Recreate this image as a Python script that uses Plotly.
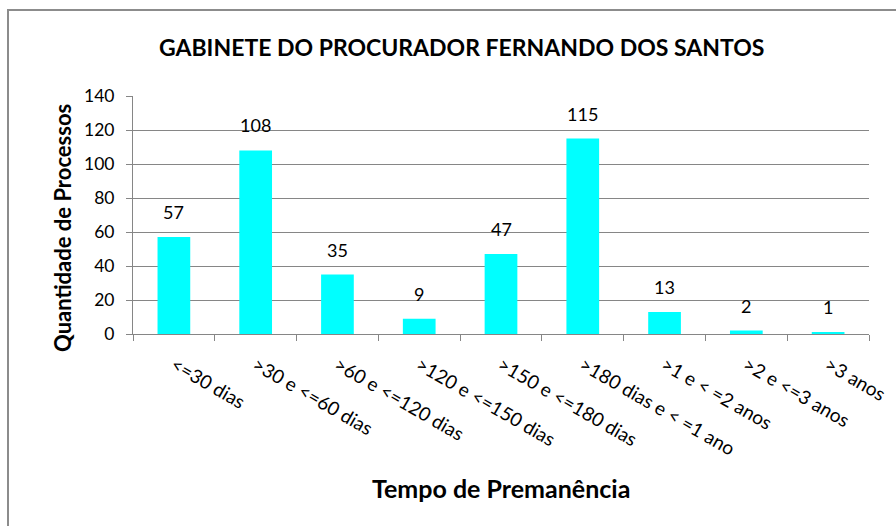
import plotly.graph_objects as go

categories = ["<=30 dias", ">30 e <=60 dias", ">60 e <=120 dias", ">120 e <=150 dias",
              ">150 e <=180 dias", ">180 dias e < =1 ano", ">1 e < =2 anos",
              ">2 e <=3 anos", ">3 anos"]
values = [57, 108, 35, 9, 47, 115, 13, 2, 1]
y_ticks = [0, 20, 40, 60, 80, 100, 120, 140]

title_text = "GABINETE DO PROCURADOR FERNANDO DOS SANTOS"
x_title = "Tempo de Premanência"
y_title = "Quantidade de Processos"

FONT = "Lato"
GRID = "#868686"

fig = go.Figure()
fig.add_trace(go.Bar(x=categories, y=values, marker=dict(color="#00FFFF", line=dict(width=0)),
                     width=0.4, hoverinfo="x+y"))

annotations = []
for c, v in zip(categories, values):
    annotations.append(dict(x=c, y=v, xref="x", yref="y", text=str(v), showarrow=False,
                            yanchor="bottom", yshift=12, font=dict(family=FONT, size=18, color="#000")))

L, R, T, B = 133, 27, 96, 192
W, H = 896, 526
pw = W - L - R
ph = H - T - B

def px(x):
    return (x - L) / pw

def py(y):
    return (H - B - y) / ph

annotations.append(dict(x=px(461), y=py(47), xref="paper", yref="paper", text="<b>" + title_text + "</b>",
                        showarrow=False, xanchor="center", yanchor="middle",
                        font=dict(family=FONT, size=23, color="#000")))
annotations.append(dict(x=px(501), y=py(488), xref="paper", yref="paper", text="<b>" + x_title + "</b>",
                        showarrow=False, xanchor="center", yanchor="middle",
                        font=dict(family=FONT, size=25, color="#000")))
annotations.append(dict(x=px(62), y=py(228), xref="paper", yref="paper", text="<b>" + y_title + "</b>",
                        showarrow=False, xanchor="center", yanchor="middle", textangle=-90,
                        font=dict(family=FONT, size=22, color="#000")))

shapes = [
    dict(type="line", xref="paper", yref="paper", x0=px(8), x1=px(8), y0=py(10), y1=py(540),
         line=dict(color="#8c8c8c", width=2)),
    dict(type="line", xref="paper", yref="paper", x0=px(7), x1=px(910), y0=py(10), y1=py(10),
         line=dict(color="#8c8c8c", width=2)),
]

fig.update_layout(
    width=W, height=H,
    margin=dict(l=L, r=R, t=T, b=B, autoexpand=False),
    paper_bgcolor="white", plot_bgcolor="white",
    showlegend=False,
    annotations=annotations,
    shapes=shapes,
    font=dict(family=FONT, size=17, color="#000"),
    xaxis=dict(type="category", tickangle=30, ticks="outside", tickson="boundaries", ticklen=6,
               tickcolor=GRID, showline=True, linecolor=GRID, linewidth=1, showgrid=False,
               ticklabelstandoff=12,
               tickfont=dict(family=FONT, size=19, color="#000"), fixedrange=True),
    yaxis=dict(range=[0, 140], tickvals=y_ticks, ticks="outside", ticklen=6, tickcolor=GRID,
               showline=True, linecolor=GRID, linewidth=1, showgrid=True, gridcolor=GRID,
               gridwidth=1, zeroline=False, ticklabelstandoff=8,
               tickfont=dict(family=FONT, size=17.5, color="#000"), fixedrange=True),
)

fig.write_html("out.html", config={"displayModeBar": False},
               post_script="document.body.style.margin='0px';")
